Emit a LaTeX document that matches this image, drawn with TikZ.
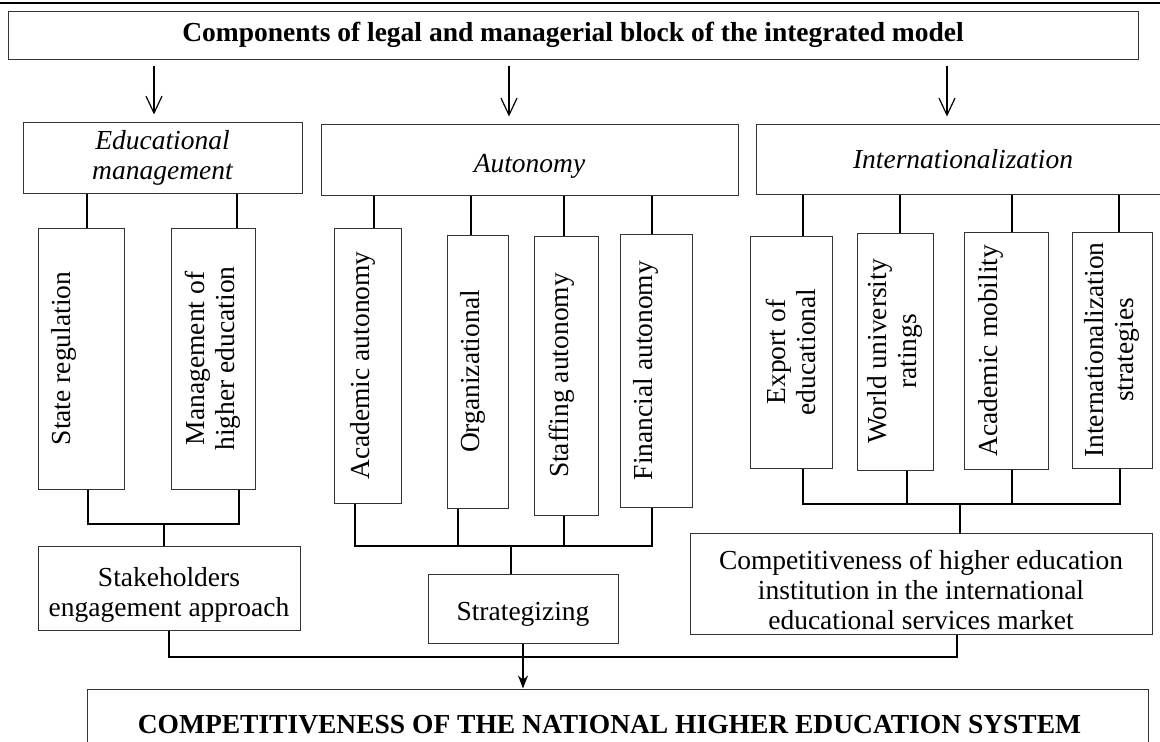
\documentclass[tikz,border=0pt]{standalone}
\usepackage{fontspec}
\setmainfont{Liberation Serif}
\usetikzlibrary{arrows.meta}
\usetikzlibrary{calc}

\newcommand\boxfont{\fontsize{27.5}{30}\selectfont}
\newcommand\topgap[1]{\rule{0pt}{#1}}

\begin{document}
\begin{tikzpicture}[x=1pt,y=-1pt,
  box/.style={draw=black!80,line width=1pt,inner sep=0pt,align=center,font=\boxfont},
  vbox/.style={box,rotate=90},
  link/.style={line width=1.8pt},
  down/.style={line width=1.2pt,-{Straight Barb[length=17pt,width=16pt]}}]
\useasboundingbox (0,0) rectangle (1160,742);
\draw[line width=2.5pt] (0,3) -- (1160,3);

% top level
\node[box,font=\boxfont\bfseries,minimum width=1130,minimum height=48] (title) at (573,35) {Components of legal and managerial block of the integrated model};
\node[box,font=\boxfont\itshape,minimum width=279,minimum height=71] (edman) at (162.5,157.5) {Educational\\management};
\node[box,font=\boxfont\itshape,minimum width=417,minimum height=71] (auton) at (529.5,159.5) {\topgap{32pt}Autonomy};
\node[box,font=\boxfont\itshape,minimum width=414,minimum height=70] (intern) at (963,159) {Internationalization};

\draw[down] ($(title.south -| edman.north)+(-8.5,6)$) -- ([xshift=-8.5pt,yshift=7pt]edman.north);
\draw[down] ($(title.south -| auton.north)+(-20.5,6)$) -- ([xshift=-20.5pt,yshift=7pt]auton.north);
\draw[down] ($(title.south -| intern.north)+(-16,6)$) -- ([xshift=-16pt,yshift=7pt]intern.north);

% rotated boxes: east is the top, west the bottom
\node[vbox,text depth=40pt,minimum width=261,minimum height=86] (state) at (81,358.5) {State regulation};
\node[vbox,minimum width=261,minimum height=84] (mgmt) at (213,358.5) {Management of\\higher education};
\node[vbox,text depth=16pt,minimum width=275,minimum height=67] (acad) at (367.5,365.5) {Academic autonomy};
\node[vbox,text depth=16pt,minimum width=273,minimum height=61] (org) at (477.5,371.5) {Organizational};
\node[vbox,text depth=15pt,minimum width=279,minimum height=64] (staff) at (566,375.5) {Staffing autonomy};
\node[vbox,text depth=26pt,minimum width=273,minimum height=72] (fin) at (656,370.5) {Financial autonomy};
\node[vbox,minimum width=232,minimum height=82] (export) at (791,352) {Export of\\educational};
\node[vbox,minimum width=237,minimum height=76] (world) at (895,351.5) {World university\\ratings};
\node[vbox,text depth=36pt,minimum width=237,minimum height=84] (mob) at (1006,350.5) {Academic mobility};
\node[vbox,minimum width=236,minimum height=80] (strat) at (1112,350) {Internationalization\\strategies};

\draw[link] ([xshift=6pt]state.east) -- ([xshift=6pt]state.east |- edman.south);
\draw[link] ([xshift=24pt]mgmt.east) -- ([xshift=24pt]mgmt.east |- edman.south);
\draw[link] ([xshift=6.5pt]acad.east) -- ([xshift=6.5pt]acad.east |- auton.south);
\draw[link] ([xshift=-6.5pt]org.east) -- ([xshift=-6.5pt]org.east |- auton.south);
\draw[link] ([xshift=-2pt]staff.east) -- ([xshift=-2pt]staff.east |- auton.south);
\draw[link] ([xshift=-4pt]fin.east) -- ([xshift=-4pt]fin.east |- auton.south);
\draw[link] ([xshift=12pt]export.east) -- ([xshift=12pt]export.east |- intern.south);
\draw[link] ([xshift=5pt]world.east) -- ([xshift=5pt]world.east |- intern.south);
\draw[link] ([xshift=6pt]mob.east) -- ([xshift=6pt]mob.east |- intern.south);
\draw[link] ([xshift=7pt]strat.east) -- ([xshift=7pt]strat.east |- intern.south);

% results
\node[box,minimum width=262,minimum height=84] (stake) at (169,588) {\topgap{33pt}Stakeholders\\engagement approach};
\node[box,minimum width=190,minimum height=69] (strz) at (523,608.5) {\topgap{30pt}Strategizing};
\node[box,minimum width=462,minimum height=101] (comp) at (921,583.5) {\topgap{33pt}Competitiveness of higher education\\institution in the international\\educational services market};
\node[box,font=\boxfont\bfseries,minimum width=1061,minimum height=72] (final) at (617.5,725) {COMPETITIVENESS OF THE NATIONAL HIGHER EDUCATION SYSTEM\hspace*{16pt}};

\coordinate (edj) at (164,524);
\draw[link] ([xshift=7pt]state.west) |- (edj) -| ([xshift=26pt]mgmt.west);
\draw[link] (edj) -- (edj |- stake.north);

\coordinate (autj) at (511,546);
\draw[link] ([xshift=-12.5pt]acad.west) |- (autj) -| ([xshift=-4pt]fin.west);
\draw[link] ([xshift=-19.5pt]org.west) -- ([xshift=-19.5pt]org.west |- autj);
\draw[link] ([xshift=-2pt]staff.west) -- ([xshift=-2pt]staff.west |- autj);
\draw[link] (autj) -- (autj |- strz.north);

\coordinate (intj) at (960,504);
\draw[link] ([xshift=12pt]export.west) |- (intj) -| ([xshift=8pt]strat.west);
\draw[link] ([xshift=12pt]world.west) -- ([xshift=12pt]world.west |- intj);
\draw[link] ([xshift=6pt]mob.west) -- ([xshift=6pt]mob.west |- intj);
\draw[link] (intj) -- (intj |- comp.north);

\coordinate (endj) at (523,657);
\draw[link] (stake.south) |- (endj) -| ([xshift=36pt]comp.south);
\draw[link,-{Stealth[length=13pt,width=10pt]}] (strz.south) -- (strz.south |- final.north);

\end{tikzpicture}
\end{document}
